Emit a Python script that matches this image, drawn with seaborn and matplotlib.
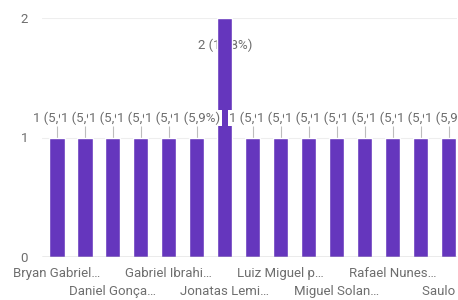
import pandas as pd
import seaborn as sns
import matplotlib.pyplot as plt

# only every other name is visible in the chart
names = ["Bryan Gabriel…", "", "Daniel Gonça…", "", "Gabriel Ibrahi…", "",
         "Jonatas Lemi…", "", "Luiz Miguel p…", "", "Miguel Solan…", "",
         "Rafael Nunes…", "", "Saulo J…"]
counts = [1, 1, 1, 1, 1, 1, 2, 1, 1, 1, 1, 1, 1, 1, 1]
percents = [5.9, 5.9, 5.9, 5.9, 5.9, 5.9, 11.8, 5.9, 5.9, 5.9, 5.9, 5.9, 5.9, 5.9, 5.9]

sns.set_style('white')
plt.rcParams['font.family'] = ['Roboto', 'DejaVu Sans']

purple = '#6536bd'
grey = '#6e6e6e'
fs = 9.5

df = pd.DataFrame({'pos': range(len(counts)), 'count': counts})

fig = plt.figure(figsize=(4.58, 3), dpi=100)
ax = fig.add_axes([42 / 458, 43 / 300, 415 / 458, 239 / 300])

sns.barplot(data=df, x='pos', y='count', color=purple, saturation=1,
            width=0.54, ax=ax, zorder=2)

ymax = 2
ax.set_xlim(-0.536, 14.3)
ax.set_ylim(0, ymax)
ax.set_yticks([0, 1, 2])
ax.set_xlabel('')
ax.set_ylabel('')
sns.despine(ax=ax, left=True, bottom=True)
ax.yaxis.grid(True, color='#eeeeee', lw=0.8, zorder=0)
ax.axhline(0, color='#9e9e9e', lw=1, zorder=3)

ax.tick_params(axis='both', length=0, labelcolor=grey, labelsize=fs)
ax.tick_params(axis='y', pad=10)
ax.set_xticks(range(len(names)))
ax.set_xticklabels(names)
for i, t in enumerate(ax.xaxis.get_major_ticks()):
    t.set_pad(7.5 if (i // 2) % 2 == 0 else 20.5)

# value labels: above short bars with a leader line, inside the tallest one
for i, (c, p) in enumerate(zip(counts, percents)):
    txt = f"{c} ({p:.1f}%)".replace('.', ',')
    if c + 0.3 < ymax:
        ax.vlines(i, c, c + 0.096, color='#bdbdbd', lw=0.8, zorder=1)
        ax.text(i, c + 0.163, txt, ha='center', va='center', fontsize=fs,
                color=grey, zorder=4,
                bbox=dict(boxstyle='square,pad=0.1', fc='white', ec='none'))
    else:
        ax.text(i, c - 0.226, txt, ha='center', va='center', fontsize=fs,
                color=grey, zorder=1)

fig.savefig('out.png', dpi=100)
